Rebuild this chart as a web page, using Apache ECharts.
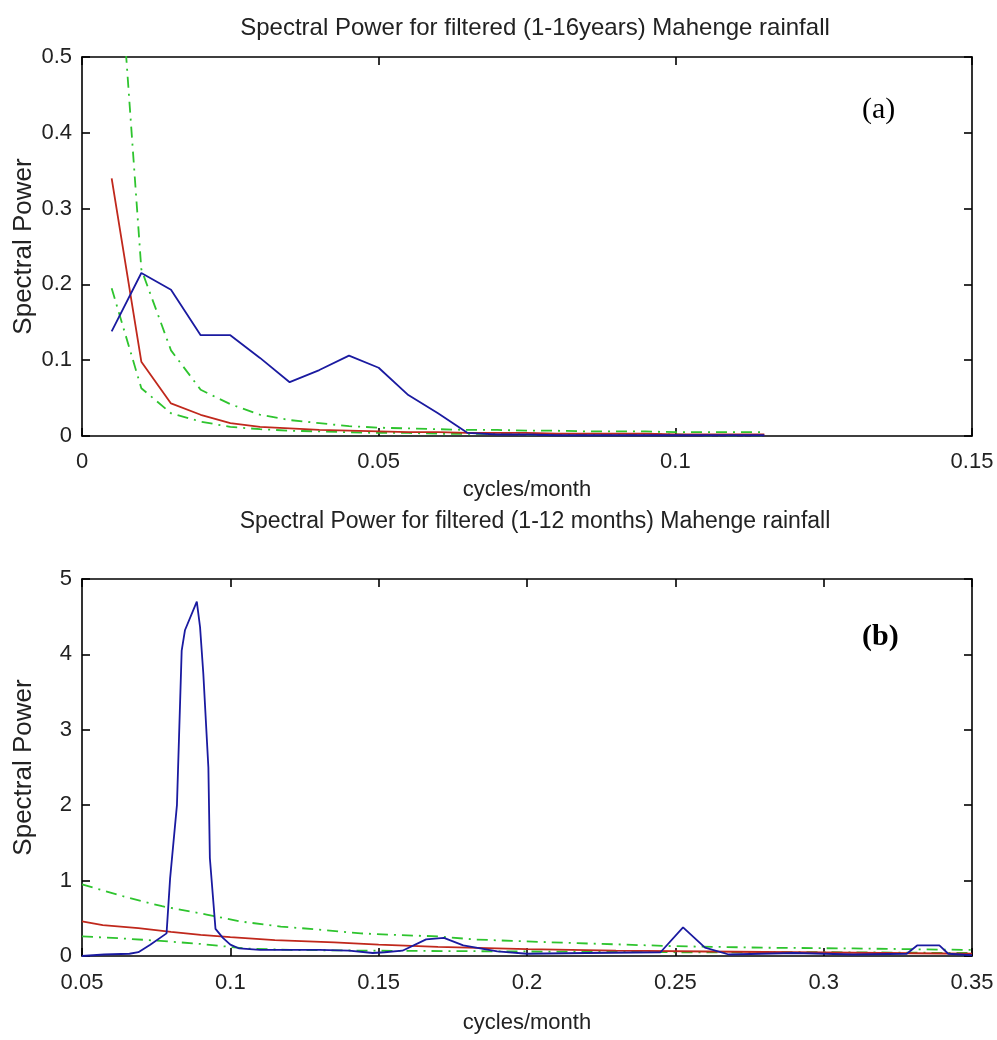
<!DOCTYPE html>
<html>
<head>
<meta charset="utf-8">
<script src="https://cdn.jsdelivr.net/npm/echarts@6/dist/echarts.min.js"></script>
<style>
  html, body { margin:0; padding:0; background:#fff; }
  #chart { width:997px; height:1040px; }
</style>
</head>
<body>
<div id="chart"></div>
<script>
// ---- panel (a): filtered 1-16 years ----
var topX       = [0.005,0.01,0.015,0.02,0.025,0.03,0.035,0.04,0.045,0.05,0.055,0.06,0.065,0.07,0.075,0.08,0.085,0.09,0.095,0.1,0.105,0.11,0.115];
var topBlue    = [0.138,0.215,0.193,0.133,0.133,0.103,0.071,0.087,0.106,0.09,0.054,0.03,0.004,0.002,0.002,0.001,0.001,0.001,0.001,0.001,0.001,0.001,0.001];
var topRed     = [0.34,0.098,0.043,0.028,0.017,0.012,0.01,0.008,0.007,0.006,0.005,0.005,0.004,0.004,0.004,0.003,0.003,0.003,0.003,0.002,0.002,0.002,0.002];
var topGreenHi = [0.77,0.22,0.113,0.061,0.042,0.028,0.021,0.017,0.013,0.011,0.01,0.009,0.008,0.008,0.007,0.007,0.006,0.006,0.006,0.005,0.005,0.005,0.005];
var topGreenLo = [0.195,0.063,0.03,0.019,0.012,0.009,0.007,0.006,0.005,0.004,0.004,0.003,0.003,0.003,0.002,0.002,0.002,0.002,0.002,0.002,0.001,0.001,0.001];

// ---- panel (b): filtered 1-12 months ----
var botBlueX = [0.05,0.0575,0.066,0.069,0.073,0.0785,0.0797,0.082,0.0836,0.0847,0.0887,0.0898,0.0909,0.0926,0.0931,0.095,0.0975,0.1,0.103,0.11,0.12,0.13,0.14,0.148,0.152,0.158,0.166,0.172,0.1785,0.19,0.2,0.22,0.245,0.2526,0.26,0.268,0.29,0.31,0.328,0.3315,0.339,0.342,0.35];
var botBlue  = [0.0,0.02,0.03,0.05,0.15,0.3,1.03,2.0,4.05,4.32,4.7,4.36,3.74,2.5,1.3,0.36,0.24,0.15,0.1,0.08,0.08,0.08,0.07,0.04,0.05,0.07,0.22,0.24,0.14,0.06,0.03,0.04,0.05,0.38,0.11,0.02,0.04,0.02,0.03,0.14,0.14,0.03,0.01];
var botRedX  = [0.05,0.057,0.069,0.08,0.09,0.1,0.115,0.135,0.15,0.17,0.2,0.23,0.26,0.29,0.32,0.35];
var botRed   = [0.46,0.41,0.37,0.32,0.28,0.25,0.21,0.18,0.15,0.12,0.09,0.07,0.06,0.05,0.04,0.03];
var botHiX   = [0.05,0.065,0.077,0.092,0.103,0.117,0.13,0.144,0.155,0.17,0.182,0.195,0.217,0.25,0.28,0.31,0.35];
var botHi    = [0.95,0.78,0.66,0.55,0.46,0.39,0.35,0.3,0.28,0.26,0.22,0.2,0.17,0.13,0.11,0.1,0.08];
var botLoX   = [0.05,0.065,0.08,0.09,0.105,0.12,0.15,0.2,0.25,0.3,0.35];
var botLo    = [0.26,0.23,0.19,0.16,0.1,0.08,0.07,0.06,0.05,0.05,0.04];

var topXTicks = [0, 0.15, 0.05];   // min, max, step
var topYTicks = [0, 0.5, 0.1];
var botXTicks = [0.05, 0.35, 0.05];
var botYTicks = [0, 5, 1];

var FONT = '"Liberation Sans", Arial, sans-serif';

function pairs(xs, ys) {
  return xs.map(function (x, i) { return [x, ys[i]]; });
}
function fmt(v) { return String(parseFloat(v.toFixed(2))); }

function axis(pos, grid, t, name, show) {
  var a = {
    type: 'value', gridIndex: grid, position: pos,
    min: t[0], max: t[1], interval: t[2],
    axisLine: { show: true, onZero: false, lineStyle: { color: '#000', width: 1.6 } },
    axisTick: { show: true, inside: true, length: 8, lineStyle: { color: '#000', width: 1.6 } },
    splitLine: { show: false },
    axisLabel: { show: show, color: '#222', fontSize: 22, fontFamily: FONT, formatter: fmt }
  };
  if (name) {
    a.name = name;
    a.nameLocation = 'middle';
    a.nameMoveOverlap = false;
    a.nameTextStyle = { color: '#222', fontSize: 22, fontFamily: FONT };
  }
  return a;
}

var xAxes = [], yAxes = [];
[[topXTicks, topYTicks, 43], [botXTicks, botYTicks, 56]].forEach(function (tk, g) {
  var xa = axis('bottom', g, tk[0], 'cycles/month', true);
  xa.nameGap = tk[2]; xa.axisLabel.margin = 15 + g;
  var xt = axis('top', g, tk[0], null, false);
  var ya = axis('left', g, tk[1], 'Spectral Power', true);
  ya.nameGap = 45; ya.axisLabel.margin = 10;
  ya.nameTextStyle.fontSize = 26;
  var yr = axis('right', g, tk[1], null, false);
  xAxes.push(xa, xt);
  yAxes.push(ya, yr);
});

function line(data, g, color, type) {
  return {
    type: 'line', xAxisIndex: g * 2, yAxisIndex: g * 2,
    data: data, showSymbol: false, silent: true, animation: false,
    lineStyle: { color: color, width: 1.8, type: type || 'solid' }
  };
}

var BLUE = '#1a1aa0', RED = '#c0281c', GREEN = '#2ec42e';
var dashDot = [11, 6, 2, 6];

var option = {
  animation: false,
  backgroundColor: '#fff',
  title: [
    { text: 'Spectral Power for filtered (1-16years) Mahenge rainfall', left: 530, top: 11, textAlign: 'center',
      textStyle: { fontSize: 24, fontWeight: 'normal', color: '#222', fontFamily: FONT } },
    { text: 'Spectral Power for filtered (1-12 months) Mahenge rainfall', left: 530, top: 505, textAlign: 'center',
      textStyle: { fontSize: 23, fontWeight: 'normal', color: '#222', fontFamily: FONT } }
  ],
  grid: [
    { left: 82, top: 57, width: 890, height: 379, containLabel: false, outerBoundsMode: 'none' },
    { left: 82, top: 579, width: 890, height: 377, containLabel: false, outerBoundsMode: 'none' }
  ],
  xAxis: xAxes,
  yAxis: yAxes,
  graphic: [
    { type: 'text', left: 862, top: 95,
      style: { text: '(a)', font: '30px "Liberation Serif", "Times New Roman", serif', fill: '#000' } },
    { type: 'text', left: 862, top: 622,
      style: { text: '(b)', font: 'bold 30px "Liberation Serif", "Times New Roman", serif', fill: '#000' } }
  ],
  series: [
    line(pairs(topX, topGreenHi), 0, GREEN, dashDot),
    line(pairs(topX, topGreenLo), 0, GREEN, dashDot),
    line(pairs(topX, topRed), 0, RED),
    line(pairs(topX, topBlue), 0, BLUE),
    line(pairs(botHiX, botHi), 1, GREEN, dashDot),
    line(pairs(botLoX, botLo), 1, GREEN, dashDot),
    line(pairs(botRedX, botRed), 1, RED),
    line(pairs(botBlueX, botBlue), 1, BLUE)
  ]
};

var chart = echarts.init(document.getElementById('chart'), null, { renderer: 'canvas' });
chart.setOption(option);
</script>
</body>
</html>
